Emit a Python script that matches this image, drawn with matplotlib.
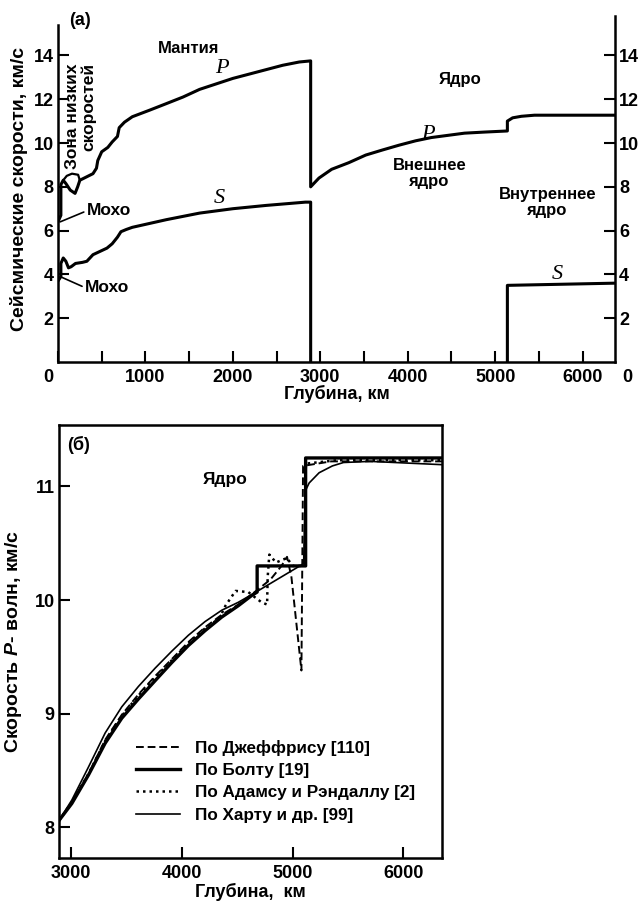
import numpy as np
import matplotlib
matplotlib.use("Agg")
import matplotlib.pyplot as plt
from matplotlib.ticker import MultipleLocator

plt.rcParams['font.family'] = ['Liberation Sans', 'DejaVu Sans']
plt.rcParams['font.weight'] = 'bold'
plt.rcParams['axes.labelweight'] = 'bold'
plt.rcParams['mathtext.fontset'] = 'custom'
plt.rcParams['mathtext.it'] = 'Liberation Sans:italic:bold'
plt.rcParams['mathtext.rm'] = 'Liberation Sans:bold'

# --- panel (a): seismic velocities vs depth ---
p_mantle_depth = [0, 33, 33, 60, 90, 140, 195, 225, 250, 300, 400, 440, 455, 500, 570,
                  620, 680, 700, 760, 850, 1048, 1240, 1430, 1620, 1810, 2000, 2190,
                  2380, 2570, 2760, 2890]
p_mantle_vel = [6.4, 6.7, 8.1, 8.3, 8.15, 7.85, 7.7, 8.0, 8.3, 8.4, 8.6, 8.85, 9.2, 9.6, 9.8,
                10.05, 10.3, 10.7, 10.95, 11.2, 11.5, 11.8, 12.1, 12.45, 12.7, 12.95, 13.15,
                13.35, 13.55, 13.7, 13.75]
lvz_depth = [60, 100, 160, 230, 250]
lvz_vel = [8.3, 8.5, 8.6, 8.55, 8.3]
p_core_depth = [2890, 2985, 3130, 3325, 3520, 3710, 3900, 4090, 4270, 4460, 4650, 4880,
                5140, 5140, 5200, 5300, 5450, 6371]
p_core_vel = [8.0, 8.4, 8.8, 9.1, 9.45, 9.68, 9.9, 10.1, 10.25, 10.35, 10.45, 10.5,
              10.55, 11.0, 11.15, 11.22, 11.27, 11.27]

s_mantle_depth = [0, 33, 33, 60, 90, 120, 150, 200, 280, 330, 400, 480, 560, 620, 680,
                  720, 780, 850, 1240, 1620, 2000, 2380, 2830, 2890, 2890]
s_mantle_vel = [3.7, 3.9, 4.5, 4.75, 4.6, 4.3, 4.35, 4.5, 4.55, 4.6, 4.9, 5.05, 5.2, 5.4, 5.7,
                5.95, 6.05, 6.15, 6.5, 6.8, 7.0, 7.15, 7.3, 7.3, 0.0]
s_inner_depth = [5140, 5140, 6371]
s_inner_vel = [0.0, 3.5, 3.6]

# --- panel (б): P velocity in the core, four models ---
jeffreys_depth = [2890, 3006, 3156, 3307, 3457, 3608, 3758, 3909, 4059, 4209, 4360, 4510,
                  4631, 4800, 4900, 4950, 4990, 5080, 5095, 5350, 6371]
jeffreys_vel = [8.06, 8.22, 8.47, 8.77, 8.99, 9.17, 9.33, 9.48, 9.63, 9.76, 9.87, 9.96,
                10.05, 10.18, 10.3, 10.38, 10.2, 9.38, 11.18, 11.22, 11.22]
bolt_depth = [2890, 3006, 3156, 3307, 3457, 3608, 3758, 3909, 4059, 4209, 4360, 4510,
              4631, 4680, 4680, 5118, 5118, 6371]
bolt_vel = [8.06, 8.21, 8.46, 8.74, 8.96, 9.13, 9.29, 9.45, 9.6, 9.73, 9.85, 9.95,
            10.04, 10.07, 10.3, 10.3, 11.25, 11.25]
adams_depth = [2890, 3006, 3156, 3307, 3457, 3608, 3758, 3909, 4059, 4209, 4340, 4394,
               4485, 4600, 4665, 4720, 4770, 4775, 4790, 4850, 4950, 5000, 5110, 5120,
               5400, 6371]
adams_vel = [8.06, 8.22, 8.47, 8.76, 8.98, 9.16, 9.32, 9.47, 9.62, 9.75, 9.84, 9.95,
             10.08, 10.07, 10.02, 9.98, 9.96, 10.2, 10.4, 10.33, 10.37, 10.3, 10.3, 11.2,
             11.23, 11.23]
hart_depth = [2890, 3006, 3156, 3307, 3457, 3608, 3758, 3909, 4059, 4209, 4360, 4510,
              4635, 5100, 5115, 5150, 5240, 5360, 5460, 5700, 6371]
hart_vel = [8.06, 8.24, 8.53, 8.83, 9.06, 9.24, 9.4, 9.55, 9.69, 9.81, 9.91, 9.98,
            10.05, 10.32, 10.96, 11.03, 11.12, 11.18, 11.21, 11.22, 11.19]

legend_labels = ["По Джеффрису [110]", "По Болту [19]",
                 "По Адамсу и Рэндаллу [2]", "По Харту и др. [99]"]

fig = plt.figure(figsize=(6.42, 9.02), dpi=100)

serif_kw = dict(fontsize=16, family='Liberation Serif', style='italic',
                weight='normal', ha='center', va='center')

# top panel
ax1 = fig.add_axes([58/642, 1 - 362/902, 557/642, 346/902])
ax1.plot(np.concatenate([p_mantle_depth, p_core_depth]),
         np.concatenate([p_mantle_vel, p_core_vel]), color='k', lw=2.2)
ax1.plot(lvz_depth, lvz_vel, color='k', lw=1.6)
ax1.plot(s_mantle_depth, s_mantle_vel, color='k', lw=2.2)
ax1.plot(s_inner_depth, s_inner_vel, color='k', lw=2.2)
ax1.set_xlim(0, 6371)
ax1.set_ylim(0, 15.8)
ax1.spines['top'].set_visible(False)
ax1.spines['left'].set_bounds(0, 15.4)
for s in ['left', 'right', 'bottom']:
    ax1.spines[s].set_linewidth(1.8)
ax1.xaxis.set_major_locator(MultipleLocator(1000))
ax1.xaxis.set_minor_locator(MultipleLocator(500))
ax1.set_yticks(np.arange(2, 15, 2))
ax1.tick_params(axis='both', which='both', direction='in', width=1.5, length=8,
                labelsize=13, right=True, labelright=True, pad=3)
ax1.tick_params(axis='x', pad=5)
ax1.set_xticklabels(['' if t == 0 else str(int(t)) for t in ax1.get_xticks()])
ax1.text(-0.018, -0.045, '0', transform=ax1.transAxes, ha='center', va='center', fontsize=13)
ax1.text(1.022, -0.045, '0', transform=ax1.transAxes, ha='center', va='center', fontsize=13)
ax1.set_ylabel("Сейсмические скорости, км/с", fontsize=14, labelpad=4)
ax1.set_xlabel("Глубина, км", fontsize=13, labelpad=-1)

ax1.text(250, 15.6, "(а)", fontsize=13, ha='center', va='center')
ax1.text(1490, 14.3, "Мантия", fontsize=12, ha='center', va='center')
ax1.text(1870, 13.4, "P", **serif_kw)
ax1.text(1850, 7.45, "S", **serif_kw)
ax1.text(260, 13.65, "Зона низких\nскоростей", rotation=90, fontsize=12.5,
         ha='center', va='top', multialignment='right', linespacing=1.0)
ax1.annotate("Мохо", xy=(25, 6.4), xytext=(580, 6.9), fontsize=12.5, ha='center',
             va='center', arrowprops=dict(arrowstyle='-', color='k', lw=1.2, shrinkA=0, shrinkB=0,
                                          relpos=(0, 0.5)))
ax1.annotate("Мохо", xy=(25, 3.9), xytext=(560, 3.4), fontsize=12.5, ha='center',
             va='center', arrowprops=dict(arrowstyle='-', color='k', lw=1.2, shrinkA=0, shrinkB=0,
                                          relpos=(0, 0.5)))
ax1.text(4600, 12.9, "Ядро", fontsize=12, ha='center', va='center')
ax1.text(4230, 10.4, "P", **serif_kw)
ax1.text(4250, 8.6, "Внешнее\nядро", fontsize=12, ha='center', va='center', linespacing=1.1)
ax1.text(5600, 7.3, "Внутреннее\nядро", fontsize=12, ha='center', va='center', linespacing=1.1)
ax1.text(5710, 4.0, "S", **serif_kw)

# bottom panel
ax2 = fig.add_axes([59/642, 1 - 858/902, 383/642, 433/902])
ax2.plot(jeffreys_depth, jeffreys_vel, color='k', lw=1.4, ls=(0, (4, 2)), label=legend_labels[0])
ax2.plot(bolt_depth, bolt_vel, color='k', lw=2.4, label=legend_labels[1])
ax2.plot(adams_depth, adams_vel, color='k', lw=1.8, ls=(0, (1, 1.6)), label=legend_labels[2])
ax2.plot(hart_depth, hart_vel, color='k', lw=1.2, label=legend_labels[3])
ax2.set_xlim(2890, 6350)
ax2.set_ylim(7.73, 11.54)
for s in ax2.spines.values():
    s.set_linewidth(1.8)
ax2.set_xticks([3000, 4000, 5000, 6000])
ax2.set_yticks([8, 9, 10, 11])
ax2.tick_params(axis='both', direction='in', width=1.5, length=8, labelsize=13, pad=3)
ax2.tick_params(axis='x', pad=5)
ax2.set_ylabel("Скорость $\\mathit{P}$- волн, км/с", fontsize=14, labelpad=8)
ax2.set_xlabel("Глубина,  км", fontsize=13, labelpad=1)
ax2.text(0.05, 0.955, "(б)", transform=ax2.transAxes, fontsize=13, ha='center', va='center')
ax2.text(4390, 11.06, "Ядро", fontsize=12.5, ha='center', va='center')
ax2.legend(loc='center left', bbox_to_anchor=(0.2, 0.177), frameon=False, fontsize=12.3,
           handlelength=2.6, handletextpad=0.9, labelspacing=0.42, borderpad=0,
           borderaxespad=0)

fig.savefig("out.png", dpi=100)
